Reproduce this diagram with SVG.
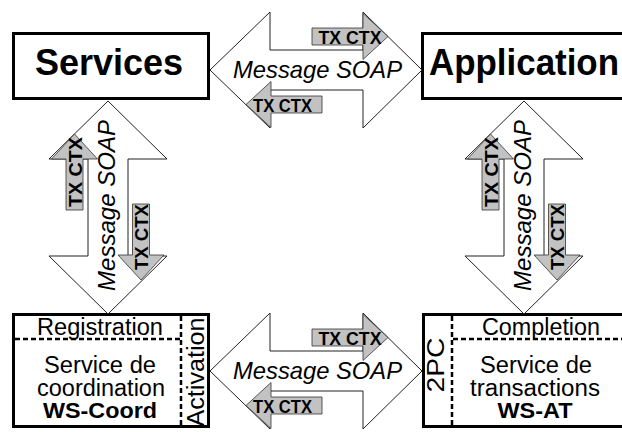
<svg xmlns="http://www.w3.org/2000/svg" width="622" height="432" viewBox="0 0 622 432">
  <style>
    .box { fill: #fff; stroke: #000; stroke-width: 3; }
    .sep { fill: none; stroke: #000; stroke-width: 2.5; stroke-dasharray: 5 3; }
    .big { fill: #fff; stroke: #222; stroke-width: 1; stroke-linejoin: miter; }
    .ctx { fill: #c2c2c2; stroke: #333; stroke-width: 0.8; }
    .title { font-family: "Liberation Sans", Arial, sans-serif; font-weight: bold; font-size: 36px; fill: #000; }
    .lbl { font-family: "Liberation Sans", Arial, sans-serif; font-size: 23px; fill: #000; }
    .lblb { font-family: "Liberation Sans", Arial, sans-serif; font-size: 22px; font-weight: bold; fill: #000; }
    .msg { font-family: "Liberation Sans", Arial, sans-serif; font-size: 24px; font-style: italic; fill: #000; }
    .tx { font-family: "Liberation Sans", Arial, sans-serif; font-size: 18px; font-weight: bold; fill: #000; }
  </style>
  <defs>
    <!-- double arrows, drawn around the origin -->
    <polygon id="dblH" points="-106,0 -46,-58 -46,-20 47,-20 47,-58 106,0 47,58 47,20 -46,20 -46,58"/>
    <polygon id="dblV" points="0,-106.5 59,-48.5 20,-48.5 20,48.5 59,48.5 0,106.5 -59,48.5 -20,48.5 -20,-48.5 -59,-48.5"/>
    <!-- context arrow pointing right, tail at 0, tip at 76 -->
    <polygon id="ctxR" points="0,-8.5 51,-8.5 51,-23 76,0 51,23 51,8.5 0,8.5"/>
  </defs>

  <!-- nodes -->
  <g id="services">
    <rect class="box" x="13.5" y="33.5" width="195" height="65"/>
    <text class="title" x="109" y="75" text-anchor="middle">Services</text>
  </g>
  <g id="application">
    <rect class="box" x="422.5" y="33.5" width="230" height="65"/>
    <text class="title" x="429" y="75" textLength="190" lengthAdjust="spacingAndGlyphs">Application</text>
  </g>
  <g id="coordination">
    <rect class="box" x="13.5" y="314.5" width="195" height="112"/>
    <line class="sep" x1="15" y1="339" x2="180" y2="339"/>
    <line class="sep" x1="181" y1="316" x2="181" y2="425"/>
    <text class="lbl" x="100" y="335" text-anchor="middle" textLength="126" lengthAdjust="spacingAndGlyphs">Registration</text>
    <text class="lbl" x="100" y="373" text-anchor="middle" textLength="112" lengthAdjust="spacingAndGlyphs">Service de</text>
    <text class="lbl" x="101" y="396" text-anchor="middle" textLength="128" lengthAdjust="spacingAndGlyphs">coordination</text>
    <text class="lblb" x="100" y="418" text-anchor="middle" textLength="114" lengthAdjust="spacingAndGlyphs">WS-Coord</text>
    <text class="lbl" transform="translate(204,372) rotate(-90)" text-anchor="middle" textLength="109" lengthAdjust="spacingAndGlyphs">Activation</text>
  </g>
  <g id="transactions">
    <rect class="box" x="423.5" y="314.5" width="230" height="112"/>
    <line class="sep" x1="452" y1="316" x2="452" y2="425"/>
    <line class="sep" x1="453" y1="339" x2="622" y2="339"/>
    <text class="lbl" x="541" y="335" text-anchor="middle" textLength="118" lengthAdjust="spacingAndGlyphs">Completion</text>
    <text class="lbl" x="536" y="373" text-anchor="middle" textLength="112" lengthAdjust="spacingAndGlyphs">Service de</text>
    <text class="lbl" x="535" y="396" text-anchor="middle" textLength="130" lengthAdjust="spacingAndGlyphs">transactions</text>
    <text class="lblb" x="535" y="418" text-anchor="middle" textLength="75" lengthAdjust="spacingAndGlyphs">WS-AT</text>
    <text class="lbl" transform="translate(444,365) rotate(-90)" text-anchor="middle" textLength="55" lengthAdjust="spacingAndGlyphs">2PC</text>
  </g>

  <!-- connectors: SOAP message arrows carrying the transaction context -->
  <g id="connectors">
    <!-- Services <-> Application -->
    <g id="msg-top">
      <use href="#dblH" class="big" transform="translate(316,70)"/>
      <use href="#ctxR" class="ctx" transform="translate(312,36.5)"/>
      <use href="#ctxR" class="ctx" transform="translate(322,104.5) scale(-1,1)"/>
      <text class="msg" x="317.5" y="78" text-anchor="middle" textLength="169" lengthAdjust="spacingAndGlyphs">Message SOAP</text>
      <text class="tx" x="350" y="43.5" text-anchor="middle" textLength="63" lengthAdjust="spacingAndGlyphs">TX CTX</text>
      <text class="tx" x="282.5" y="111.5" text-anchor="middle" textLength="59" lengthAdjust="spacingAndGlyphs">TX CTX</text>
    </g>
    <!-- coordination <-> transactions -->
    <g id="msg-bottom">
      <use href="#dblH" class="big" transform="translate(316,371)"/>
      <use href="#ctxR" class="ctx" transform="translate(312,337.5)"/>
      <use href="#ctxR" class="ctx" transform="translate(322,405.5) scale(-1,1)"/>
      <text class="msg" x="317.5" y="379" text-anchor="middle" textLength="169" lengthAdjust="spacingAndGlyphs">Message SOAP</text>
      <text class="tx" x="350" y="344.5" text-anchor="middle" textLength="63" lengthAdjust="spacingAndGlyphs">TX CTX</text>
      <text class="tx" x="282.5" y="412.5" text-anchor="middle" textLength="59" lengthAdjust="spacingAndGlyphs">TX CTX</text>
    </g>
    <!-- Services <-> coordination -->
    <g id="msg-left">
      <use href="#dblV" class="big" transform="translate(108,207.5)"/>
      <use href="#ctxR" class="ctx" transform="translate(74.5,210) rotate(-90)"/>
      <use href="#ctxR" class="ctx" transform="translate(141,204) rotate(90)"/>
      <text class="msg" transform="translate(115,205.5) rotate(-90)" text-anchor="middle" textLength="171" lengthAdjust="spacingAndGlyphs">Message SOAP</text>
      <text class="tx" transform="translate(81.5,172) rotate(-90)" text-anchor="middle" textLength="70" lengthAdjust="spacingAndGlyphs">TX CTX</text>
      <text class="tx" transform="translate(148,237) rotate(-90)" text-anchor="middle" textLength="66" lengthAdjust="spacingAndGlyphs">TX CTX</text>
    </g>
    <!-- Application <-> transactions -->
    <g id="msg-right">
      <use href="#dblV" class="big" transform="translate(524,207.5)"/>
      <use href="#ctxR" class="ctx" transform="translate(490.5,210) rotate(-90)"/>
      <use href="#ctxR" class="ctx" transform="translate(557,204) rotate(90)"/>
      <text class="msg" transform="translate(531,205.5) rotate(-90)" text-anchor="middle" textLength="171" lengthAdjust="spacingAndGlyphs">Message SOAP</text>
      <text class="tx" transform="translate(497.5,172) rotate(-90)" text-anchor="middle" textLength="70" lengthAdjust="spacingAndGlyphs">TX CTX</text>
      <text class="tx" transform="translate(564,237) rotate(-90)" text-anchor="middle" textLength="66" lengthAdjust="spacingAndGlyphs">TX CTX</text>
    </g>
  </g>
</svg>
